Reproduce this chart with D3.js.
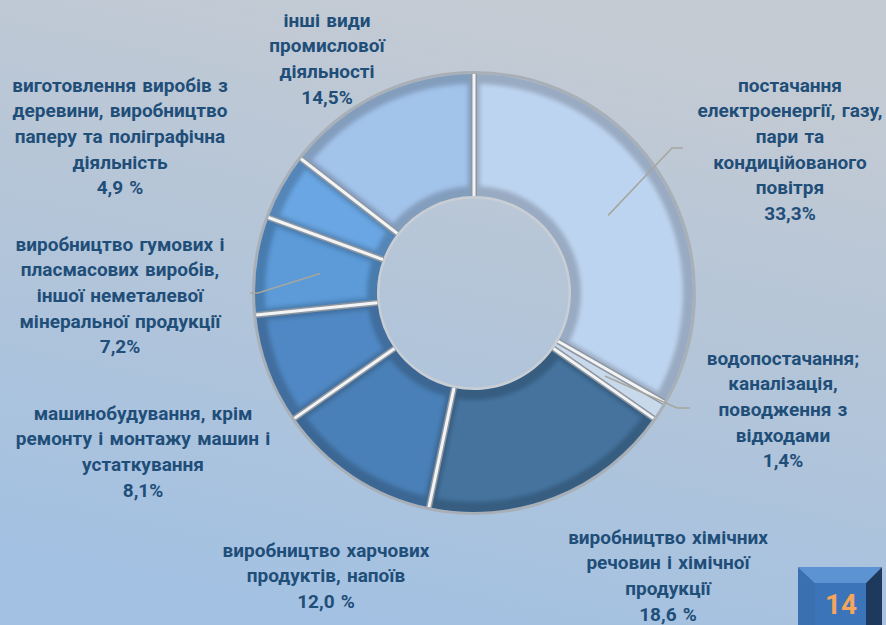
<!DOCTYPE html>
<html>
<head>
<meta charset="utf-8">
<script src="https://cdn.jsdelivr.net/npm/d3@7"></script>
<style>
  html, body { margin: 0; padding: 0; overflow: hidden; }
  svg { display: block; }
  .lbl { font-family: Roboto, "Noto Sans", sans-serif; font-weight: bold; font-size: 19px; word-spacing: 1.5px; fill: #1f4e79; }
</style>
</head>
<body>
<svg id="chart" width="886" height="625"></svg>
<script>
// chart data
const categories = [
    ["постачання", "електроенергії, газу,", "пари та", "кондиційованого", "повітря"],
    ["водопостачання;", "каналізація,", "поводження з", "відходами"],
    ["виробництво хімічних", "речовин і хімічної", "продукції"],
    ["виробництво харчових", "продуктів, напоїв"],
    ["машинобудування, крім", "ремонту і монтажу машин і", "устаткування"],
    ["виробництво гумових і", "пласмасових виробів,", "іншої неметалевої", "мінеральної продукції"],
    ["виготовлення виробів з", "деревини, виробництво", "паперу та поліграфічна", "діяльність"],
    ["інші види", "промислової", "діяльності"]
];
const values = [33.3, 1.4, 18.6, 12.0, 8.1, 7.2, 4.9, 14.5];
const valueLabels = ["33,3%", "1,4%", "18,6 %", "12,0 %", "8,1%", "7,2%", "4,9 %", "14,5%"];

// layout
const width = 886, height = 625;
const cx = 474, cy = 293;
const rOuter = 219, rInner = 97;
const colors = ["#bdd4f0", "#c9d9ec", "#44739e", "#4a80b7", "#5088c4", "#5b9ad8", "#69a6e3", "#a2c3ea"];
const labelPos = [[790, 85], [783, 358], [668, 537], [326, 550], [143, 413], [120, 244], [120, 85], [327, 20]];
const lineH = 25.7;
// elbow of leader lines: [index, elbowX, elbowY, endX]
const leaders = [[0, 672, 148, 683], [1, 677, 408, 690], [5, 258, 293, 250]];

const svg = d3.select("#chart");
const defs = svg.append("defs");

const bg = defs.append("linearGradient").attr("id", "bg")
    .attr("x1", 0.6).attr("y1", 0).attr("x2", 0.3).attr("y2", 1);
bg.append("stop").attr("offset", 0).attr("stop-color", "#c5cbd3");
bg.append("stop").attr("offset", 0.45).attr("stop-color", "#b4c5d8");
bg.append("stop").attr("offset", 1).attr("stop-color", "#a2c1e3");

defs.append("filter").attr("id", "soft")
    .attr("x", "-10%").attr("y", "-10%").attr("width", "120%").attr("height", "120%")
    .append("feGaussianBlur").attr("stdDeviation", 2.2);

svg.append("rect").attr("width", width).attr("height", height).attr("fill", "url(#bg)");

const g = svg.append("g").attr("transform", `translate(${cx},${cy})`);

const pie = d3.pie().sort(null).value(d => d);
const arcs = pie(values);
const isThin = d => d.endAngle - d.startAngle < 0.12;

const arc = d3.arc().innerRadius(rInner).outerRadius(rOuter);
const inset = d3.arc().innerRadius(rInner + 10).outerRadius(rOuter - 10).padAngle(0.05);
const mid = d3.arc().innerRadius((rInner + rOuter) / 2 - 3).outerRadius((rInner + rOuter) / 2 - 3);

// outer and inner rims
g.append("circle").attr("r", rOuter + 1.5).attr("fill", "none")
    .attr("stroke", "#a9afb7").attr("stroke-width", 3);
g.append("circle").attr("r", rInner - 1).attr("fill", "none")
    .attr("stroke", "#c9ced4").attr("stroke-width", 3);

// slice frames (darker bevel)
g.selectAll("path.frame")
    .data(arcs)
    .enter().append("path")
        .attr("class", "frame")
        .attr("d", arc)
        .attr("fill", (d, i) => isThin(d) ? colors[i] : d3.color(colors[i]).darker(0.6));

// slice faces
g.selectAll("path.face")
    .data(arcs.filter(d => !isThin(d)))
    .enter().append("path")
        .attr("class", "face")
        .attr("d", inset)
        .attr("fill", d => colors[d.index])
        .attr("filter", "url(#soft)");

// separators between slices
const seps = g.selectAll("g.sep")
    .data(arcs)
    .enter().append("g")
        .attr("class", "sep");
seps.append("line")
    .attr("x1", d => rInner * Math.sin(d.startAngle))
    .attr("y1", d => -rInner * Math.cos(d.startAngle))
    .attr("x2", d => rOuter * Math.sin(d.startAngle))
    .attr("y2", d => -rOuter * Math.cos(d.startAngle))
    .attr("stroke", "#8e969f").attr("stroke-width", 6);
seps.append("line")
    .attr("x1", d => rInner * Math.sin(d.startAngle))
    .attr("y1", d => -rInner * Math.cos(d.startAngle))
    .attr("x2", d => rOuter * Math.sin(d.startAngle))
    .attr("y2", d => -rOuter * Math.cos(d.startAngle))
    .attr("stroke", "#f2f4f6").attr("stroke-width", 3);

// leader lines
leaders.forEach(([i, ex, ey, endX]) => {
    const [mx, my] = mid.centroid(arcs[i]);
    svg.append("polyline")
        .attr("points", `${cx + mx},${cy + my} ${ex},${ey} ${endX},${ey}`)
        .attr("fill", "none")
        .attr("stroke", "#a6a69e")
        .attr("stroke-width", 1.5);
});

// labels
categories.forEach((lines, i) => {
    const [x, y] = labelPos[i];
    const t = svg.append("text")
        .attr("class", "lbl")
        .attr("text-anchor", "middle");
    lines.concat([valueLabels[i]]).forEach((s, k) => {
        t.append("tspan")
            .attr("x", x)
            .attr("y", y + k * lineH + 6.5)
            .text(s);
    });
});

// page number badge
const badge = svg.append("g");
badge.append("polygon").attr("points", "798,567 882,567 866,583 815,583").attr("fill", "#5b93d3");
badge.append("polygon").attr("points", "798,567 815,583 815,625 798,625").attr("fill", "#3a6fb0");
badge.append("polygon").attr("points", "882,567 882,625 866,625 866,583").attr("fill", "#1d3a5e");
badge.append("rect").attr("x", 815).attr("y", 583).attr("width", 51).attr("height", 42).attr("fill", "#3b74b8");
badge.append("text")
    .attr("x", 841).attr("y", 614)
    .attr("text-anchor", "middle")
    .style("font-family", "Roboto, sans-serif")
    .style("font-weight", "bold")
    .style("font-size", "28px")
    .style("fill", "#f6a55e")
    .text("14");
</script>
</body>
</html>
